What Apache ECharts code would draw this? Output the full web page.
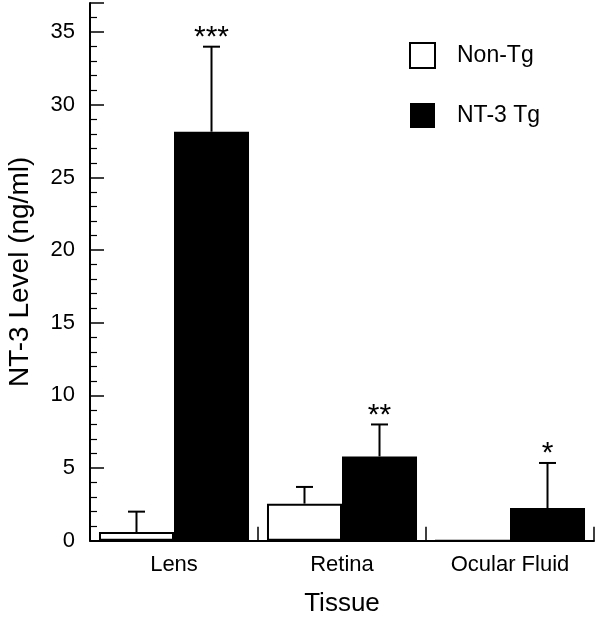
<!DOCTYPE html>
<html>
<head>
<meta charset="utf-8">
<script src="https://cdn.jsdelivr.net/npm/echarts@6/dist/echarts.min.js"></script>
<style>
html,body{margin:0;padding:0;background:#fff;}
#chart{width:600px;height:624px;}
</style>
</head>
<body>
<div id="chart"></div>
<script>
const categories = ['Lens', 'Retina', 'Ocular Fluid'];
const nonTgMean = [0.6, 2.55, 0];
const nonTgUpper = [2.0, 3.7, null];
const tgMean = [28.15, 5.8, 2.25];
const tgUpper = [34.0, 8.0, 5.35];
const tgStars = ['***', '**', '*'];
const yTicks = [0, 5, 10, 15, 20, 25, 30, 35];

const FONT = 'Liberation Sans, Arial, Helvetica, sans-serif';
const CAT_GAP = 0.107;

const errData = [];
categories.forEach((c, i) => {
  if (nonTgUpper[i] != null) errData.push([i, nonTgMean[i], nonTgUpper[i], -1, '']);
  if (tgUpper[i] != null) errData.push([i, tgMean[i], tgUpper[i], 1, tgStars[i]]);
});

const chart = echarts.init(document.getElementById('chart'), null, {renderer: 'canvas'});
chart.setOption({
  animation: false,
  backgroundColor: '#fff',
  grid: {left: 90, right: 6, top: 3.1, bottom: 83.3, containLabel: false, outerBoundsMode: 'none'},
  legend: {
    orient: 'vertical',
    left: 404, top: 37,
    itemWidth: 25, itemHeight: 25, itemGap: 34,
    icon: 'rect',
    data: ['Non-Tg', 'NT-3 Tg'],
    textStyle: {fontFamily: FONT, fontSize: 23, color: '#000', padding: [0, 0, 0, 17]}
  },
  xAxis: {
    type: 'category',
    data: categories,
    name: 'Tissue',
    nameLocation: 'middle',
    nameGap: 50,
    nameTextStyle: {fontFamily: FONT, fontSize: 26, color: '#000'},
    axisLine: {lineStyle: {color: '#000', width: 2}},
    axisTick: {show: true, inside: true, length: 14, alignWithLabel: false, lineStyle: {color: '#000', width: 1.5}},
    axisLabel: {fontFamily: FONT, fontSize: 22, color: '#000', margin: 13},
    splitLine: {show: false}
  },
  yAxis: {
    type: 'value',
    min: 0, max: 37, interval: 5,
    name: 'NT-3 Level (ng/ml)',
    nameLocation: 'middle',
    nameGap: 56,
    nameRotate: 90,
    nameTextStyle: {fontFamily: FONT, fontSize: 28, color: '#000'},
    axisLine: {show: true, lineStyle: {color: '#000', width: 2}},
    axisTick: {show: true, inside: true, length: 14, lineStyle: {color: '#000', width: 1.5}},
    minorTick: {show: true, splitNumber: 5, length: 7, lineStyle: {color: '#000', width: 1.2}},
    axisLabel: {
      fontFamily: FONT, fontSize: 22, color: '#000', margin: 15,
      formatter: v => (yTicks.indexOf(v) >= 0 ? String(v) : '')
    },
    splitLine: {show: false}
  },
  series: [
    {
      name: 'Non-Tg', type: 'bar', data: nonTgMean,
      barGap: '0%', barCategoryGap: (CAT_GAP * 100) + '%',
      itemStyle: {color: '#fff', borderColor: '#000', borderWidth: 2}
    },
    {
      name: 'NT-3 Tg', type: 'bar', data: tgMean,
      barGap: '0%', barCategoryGap: (CAT_GAP * 100) + '%',
      itemStyle: {color: '#000', borderColor: '#000', borderWidth: 0}
    },
    {
      name: 'err', type: 'custom', z: 5,
      data: errData,
      encode: {x: 0, y: 2},
      renderItem: function (params, api) {
        const cat = api.value(0);
        const mean = api.value(1);
        const up = api.value(2);
        const side = api.value(3);
        const star = errData[params.dataIndex][4];
        const c = api.coord([cat, mean]);
        const u = api.coord([cat, up]);
        const bw = api.size([1, 0])[0] * (1 - CAT_GAP) / 2;
        const x = c[0] + side * bw / 2;
        const children = [
          {type: 'line', shape: {x1: x, y1: c[1], x2: x, y2: u[1]}, style: {stroke: '#000', lineWidth: 2}},
          {type: 'line', shape: {x1: x - 8.5, y1: u[1], x2: x + 8.5, y2: u[1]}, style: {stroke: '#000', lineWidth: 2}}
        ];
        if (star) {
          children.push({
            type: 'text',
            style: {
              text: star, x: x, y: u[1] + 6,
              align: 'center', verticalAlign: 'bottom',
              fontFamily: FONT, fontSize: 30, fill: '#000'
            }
          });
        }
        return {type: 'group', children: children};
      }
    }
  ]
});
</script>
</body>
</html>
